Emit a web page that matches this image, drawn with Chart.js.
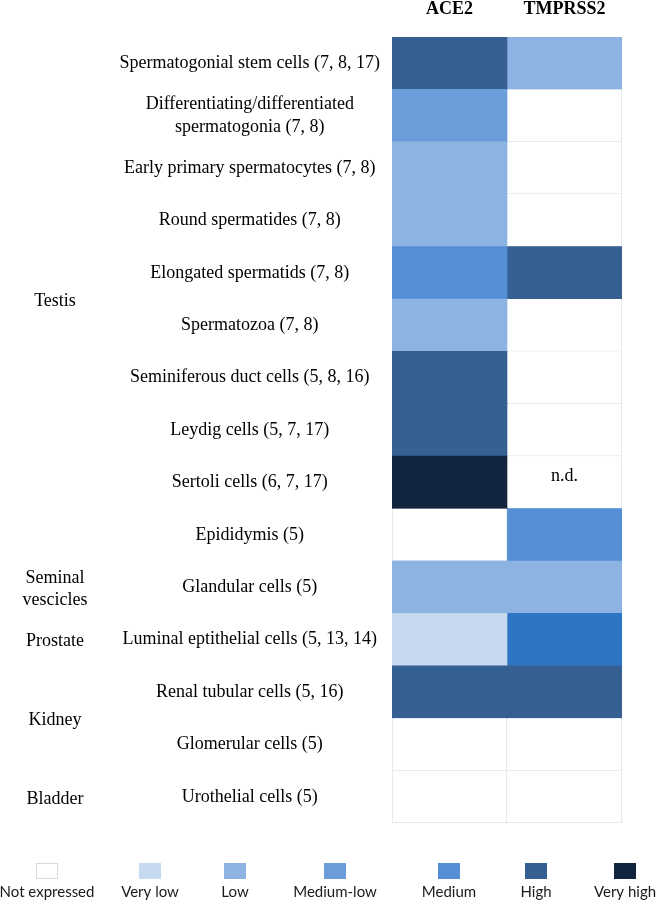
<!DOCTYPE html>
<html>
<head>
<meta charset="utf-8">
<script src="https://cdn.jsdelivr.net/npm/chart.js@4/dist/chart.umd.min.js"></script>
<style>
html,body{margin:0;padding:0;background:#fff;}
#wrap{width:658px;height:901px;position:relative;}
</style>
</head>
<body>
<div id="wrap"><canvas id="c" width="658" height="901"></canvas></div>
<script>
// ---------- data ----------
const columns = ['ACE2', 'TMPRSS2'];
const rowLabels = [
  'Spermatogonial stem cells (7, 8, 17)',
  ['Differentiating/differentiated', 'spermatogonia (7, 8)'],
  'Early primary spermatocytes (7, 8)',
  'Round spermatides (7, 8)',
  'Elongated spermatids (7, 8)',
  'Spermatozoa (7, 8)',
  'Seminiferous duct cells (5, 8, 16)',
  'Leydig cells (5, 7, 17)',
  'Sertoli cells (6, 7, 17)',
  'Epididymis (5)',
  'Glandular cells (5)',
  'Luminal eptithelial cells (5, 13, 14)',
  'Renal tubular cells (5, 16)',
  'Glomerular cells (5)',
  'Urothelial cells (5)'
];
const ace2Levels = [
  'High', 'Medium-low', 'Low', 'Low', 'Medium', 'Low', 'High', 'High', 'Very high',
  'Not expressed', 'Low', 'Very low', 'High', 'Not expressed', 'Not expressed'
];
const tmprss2Levels = [
  'Low', 'Not expressed', 'Not expressed', 'Not expressed', 'High', 'Not expressed',
  'Not expressed', 'Not expressed', 'n.d.', 'Medium', 'Low', 'Medium-high', 'High',
  'Not expressed', 'Not expressed'
];
const groupNames = [['Testis'], ['Seminal', 'vescicles'], ['Prostate'], ['Kidney'], ['Bladder']];
const groupFirstRow = [0, 10, 11, 12, 14];
const groupLastRow = [9, 10, 11, 13, 14];
const legendLevels = ['Not expressed', 'Very low', 'Low', 'Medium-low', 'Medium', 'High', 'Very high'];

// ---------- styles ----------
const levelColors = {
  'Not expressed': '#ffffff',
  'n.d.': '#ffffff',
  'Very low': '#c6d9f1',
  'Low': '#8db3e2',
  'Medium-low': '#6b9dda',
  'Medium': '#558ed5',
  'Medium-high': '#2e74c5',
  'High': '#366092',
  'Very high': '#12253f'
};
const gridLine = '#dbe2ea';
const isBlank = l => l === 'Not expressed' || l === 'n.d.';
const serif = "'Liberation Serif', 'Times New Roman', serif";
const sans = "Lato, 'Open Sans', sans-serif";

const levelsByColumn = [ace2Levels, tmprss2Levels];

const datasets = columns.map((col, ci) => {
  const levels = levelsByColumn[ci];
  return {
    label: col,
    data: levels.map(() => 1),
    backgroundColor: levels.map(l => levelColors[l]),
    borderColor: levels.map(l => isBlank(l) ? gridLine : levelColors[l]),
    borderWidth: ctx => {
      const l = levels[ctx.dataIndex];
      return isBlank(l) ? {top: 0, right: 1, bottom: 1, left: ci === 0 ? 1 : 0} : 0;
    },
    borderSkipped: false,
    barPercentage: 1,
    categoryPercentage: 1
  };
});

// group labels (left column)
const groupPlugin = {
  id: 'groups',
  afterDraw(chart) {
    const {ctx} = chart;
    const y = chart.scales.y;
    ctx.save();
    ctx.font = '18px ' + serif;
    ctx.fillStyle = '#000';
    ctx.textAlign = 'center';
    ctx.textBaseline = 'middle';
    groupNames.forEach((lines, gi) => {
      const cy = (y.getPixelForValue(groupFirstRow[gi]) + y.getPixelForValue(groupLastRow[gi])) / 2;
      const lh = 22;
      lines.forEach((t, li) => {
        ctx.fillText(t, 55, cy + 2 + (li - (lines.length - 1) / 2) * lh);
      });
    });
    ctx.restore();
  }
};

// n.d. annotation
const ndPlugin = {
  id: 'nd',
  afterDatasetsDraw(chart) {
    const {ctx} = chart;
    ctx.save();
    ctx.font = '18px ' + serif;
    ctx.fillStyle = '#000';
    ctx.textAlign = 'center';
    ctx.textBaseline = 'middle';
    levelsByColumn.forEach((levels, ci) => {
      const meta = chart.getDatasetMeta(ci);
      levels.forEach((l, ri) => {
        if (l === 'n.d.') {
          const bar = meta.data[ri];
          const p = bar.getProps(['x', 'y', 'base'], true);
          ctx.fillText('n.d.', (p.x + p.base) / 2, p.y - 6);
        }
      });
    });
    ctx.restore();
  }
};

// bottom colour key
const legendPlugin = {
  id: 'levelKey',
  afterDraw(chart, args, opts) {
    const {ctx} = chart;
    ctx.save();
    legendLevels.forEach((l, i) => {
      const cx = opts.centers[i];
      ctx.fillStyle = levelColors[l];
      ctx.fillRect(cx - 11, opts.boxTop, 22, 16);
      if (isBlank(l)) {
        ctx.strokeStyle = '#d9d9d9';
        ctx.lineWidth = 1;
        ctx.strokeRect(cx - 10.5, opts.boxTop + 0.5, 21, 15);
      }
      ctx.fillStyle = '#1a1a1a';
      ctx.font = '15px ' + sans;
      ctx.textAlign = 'center';
      ctx.textBaseline = 'middle';
      ctx.fillText(l, cx, opts.textY);
    });
    ctx.restore();
  }
};

new Chart(document.getElementById('c'), {
  type: 'bar',
  data: {labels: rowLabels, datasets},
  plugins: [groupPlugin, ndPlugin, legendPlugin],
  options: {
    indexAxis: 'y',
    responsive: false,
    animation: false,
    devicePixelRatio: 1,
    layout: {padding: {top: 0, right: 36, bottom: 78, left: 0}},
    plugins: {
      legend: {display: false},
      tooltip: {enabled: false},
      levelKey: {centers: [47, 150, 235, 335, 449, 536, 625], boxTop: 863, textY: 892}
    },
    scales: {
      x: {
        type: 'linear',
        position: 'top',
        stacked: true,
        min: 0,
        max: 2,
        grid: {display: false, drawTicks: false},
        border: {display: false},
        afterBuildTicks: s => { s.ticks = [{value: 0.5}, {value: 1.5}]; },
        afterFit: s => { s.height = 37; },
        ticks: {
          callback: (v, i) => columns[i],
          font: {family: serif, weight: 'bold', size: 18},
          color: '#000',
          padding: 17,
          maxRotation: 0,
          autoSkip: false
        }
      },
      y: {
        type: 'category',
        stacked: true,
        grid: {display: false, drawTicks: false},
        border: {display: false},
        afterFit: s => { s.width = 392; },
        ticks: {
          crossAlign: 'center',
          padding: 12,
          autoSkip: false,
          color: '#000',
          font: {family: serif, size: 18, lineHeight: 1.28}
        }
      }
    }
  }
});
</script>
</body>
</html>
